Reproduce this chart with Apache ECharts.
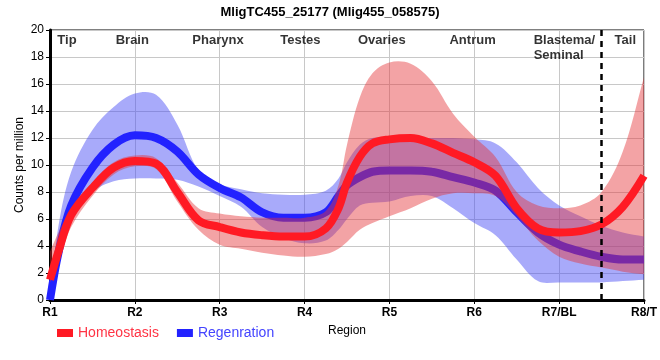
<!DOCTYPE html>
<html>
<head>
<meta charset="utf-8">
<script src="https://cdn.jsdelivr.net/npm/echarts@6/dist/echarts.min.js"></script>
<style>html,body{margin:0;padding:0;background:#fff}#c{width:660px;height:360px}</style>
</head>
<body>
<div id="c"></div>
<script>
var xTickLabels = ['R1','R2','R3','R4','R5','R6','R7/BL','R8/T'];
var xs        = [0, 0.1, 0.25, 0.5, 0.75, 1, 1.25, 1.5, 1.75, 2, 2.25, 2.5, 2.75, 3, 3.25, 3.4, 3.5, 3.65, 3.8, 4, 4.25, 4.5, 4.75, 5, 5.25, 5.5, 5.75, 6, 6.25, 6.5, 6.75, 7];
var homeMean  = [1.5, 3.6, 6.3, 8.3, 9.8, 10.3, 10.1, 8.0, 5.9, 5.4, 5.0, 4.8, 4.7, 4.7, 5.3, 6.8, 8.7, 10.6, 11.6, 11.9, 12.0, 11.6, 10.9, 10.2, 9.2, 6.8, 5.3, 5.0, 5.1, 5.6, 6.9, 9.2];
var homeUpper = [3.6, 5.0, 6.8, 8.7, 10.2, 10.7, 10.5, 8.7, 6.8, 6.4, 6.2, 6.1, 6.1, 6.1, 6.6, 8.5, 11.5, 15.0, 16.8, 17.6, 17.5, 16.2, 13.8, 12.1, 10.6, 8.0, 7.0, 6.8, 7.0, 8.0, 11.0, 16.5];
var homeLower = [1.3, 2.8, 5.4, 7.7, 9.3, 9.9, 9.7, 7.3, 5.2, 4.1, 3.8, 3.5, 3.3, 3.2, 3.4, 3.8, 4.3, 5.2, 5.7, 6.2, 6.8, 7.5, 7.9, 7.9, 7.7, 6.2, 4.4, 3.2, 2.7, 2.4, 2.1, 1.9];
var regMean   = [0, 3.5, 7.0, 9.8, 11.5, 12.2, 12.0, 11.0, 9.3, 8.3, 7.6, 6.5, 6.1, 6.1, 6.5, 7.7, 8.5, 9.1, 9.5, 9.6, 9.6, 9.5, 9.1, 8.7, 8.1, 6.5, 5.0, 4.1, 3.6, 3.2, 3.0, 3.0];
var regUpper  = [0.3, 5.5, 9.5, 12.6, 14.3, 15.3, 15.2, 13.0, 9.6, 8.6, 8.2, 7.9, 7.8, 7.8, 8.1, 9.0, 10.2, 11.5, 12.0, 12.0, 12.0, 12.0, 12.0, 11.9, 11.6, 10.2, 8.3, 7.0, 6.2, 5.5, 5.0, 4.7];
var regLower  = [0, 2.5, 6.0, 8.0, 8.8, 9.0, 9.0, 8.9, 8.4, 7.7, 6.9, 5.4, 4.6, 4.2, 4.4, 5.2, 6.0, 7.0, 7.2, 7.3, 7.7, 7.7, 6.8, 5.7, 4.8, 3.0, 1.4, 1.3, 1.3, 1.3, 1.4, 1.5];
var regionNames = ['Tip', 'Brain', 'Pharynx', 'Testes', 'Ovaries', 'Antrum', 'Blastema/\nSeminal', 'Tail'];
var regionX     = [0.2, 0.97, 1.98, 2.95, 3.91, 4.98, 5.7, 6.78];
var tailBoundary = 6.5;

function pairs(a){ return xs.map(function(x,i){ return [x, a[i]]; }); }

var SM = 0.35;
// smooth bezier through pixel points (same idea as ECharts line smoothing)
function smoothSeg(pts, s, moveFirst){
  var d = moveFirst ? 'M' + pts[0][0] + ' ' + pts[0][1] : 'L' + pts[0][0] + ' ' + pts[0][1];
  var n = pts.length;
  function cps(i){
    var p = pts[i], prev = pts[Math.max(i-1,0)], next = pts[Math.min(i+1,n-1)];
    var vx = next[0]-prev[0], vy = next[1]-prev[1];
    var lp = Math.hypot(p[0]-prev[0], p[1]-prev[1]);
    var ln = Math.hypot(p[0]-next[0], p[1]-next[1]);
    var r = (lp+ln) > 0 ? ln/(lp+ln) : 0.5;
    return {
      next: [p[0] + vx*s*r, p[1] + vy*s*r],
      prev: [p[0] - vx*s*(1-r), p[1] - vy*s*(1-r)]
    };
  }
  var c = pts.map(function(_,i){ return cps(i); });
  for (var i = 0; i < n-1; i++){
    var a = c[i].next, b = c[i+1].prev, e = pts[i+1];
    d += 'C' + a[0] + ' ' + a[1] + ' ' + b[0] + ' ' + b[1] + ' ' + e[0] + ' ' + e[1];
  }
  return d;
}
function bandRenderer(upper, lower, fill){
  return function(params, api){
    if (params.dataIndex !== 0) return;
    var up = xs.map(function(x,i){ return api.coord([x, upper[i]]); });
    var lo = xs.map(function(x,i){ return api.coord([x, lower[i]]); }).reverse();
    var d = smoothSeg(up, SM, true) + smoothSeg(lo, SM, false) + 'Z';
    return {
      type: 'path',
      shape: {pathData: d},
      style: {fill: fill, stroke: null}
    };
  };
}

var FONT = 'Liberation Sans, Arial, sans-serif';
var chart = echarts.init(document.getElementById('c'));
chart.setOption({
  animation: false,
  backgroundColor: '#fff',
  title: {
    text: 'MligTC455_25177 (Mlig455_058575)',
    left: 'center', top: 1,
    textStyle: {fontFamily: FONT, fontSize: 13, fontWeight: 'bold', color: '#000'}
  },
  legend: {
    left: 52, top: 321, icon: 'rect', itemWidth: 16, itemHeight: 8, itemGap: 18,
    textStyle: {fontFamily: FONT, fontSize: 14},
    data: [
      {name: 'Homeostasis', textStyle: {color: '#ff3344'}},
      {name: 'Regenration', textStyle: {color: '#4444ff'}}
    ]
  },
  grid: {left: 50, right: 10, top: 30, bottom: 60, show: true, borderColor: '#000', borderWidth: 1},
  xAxis: {
    type: 'value', min: 0, max: 7, interval: 1,
    name: 'Region', nameLocation: 'middle', nameGap: 25, nameMoveOverlap: false,
    nameTextStyle: {fontFamily: FONT, fontSize: 12, color: '#000'},
    axisLine: {lineStyle: {color: '#000', width: 3}},
    axisTick: {show: true, length: 4, lineStyle: {color: '#000'}},
    axisLabel: {fontFamily: FONT, fontSize: 12, fontWeight: 'bold', color: '#000', margin: 7,
      formatter: function(v){ return xTickLabels[Math.round(v)] || ''; }},
    splitLine: {show: true, lineStyle: {color: '#c8c8c8', width: 1}}
  },
  yAxis: {
    type: 'value', min: 0, max: 20, interval: 2,
    name: 'Counts per million', nameLocation: 'middle', nameGap: 24, nameMoveOverlap: false,
    nameTextStyle: {fontFamily: FONT, fontSize: 12, color: '#000'},
    axisLine: {show: true, lineStyle: {color: '#000', width: 3}},
    axisTick: {show: true, length: 4, lineStyle: {color: '#000'}},
    axisLabel: {fontFamily: FONT, fontSize: 12, color: '#000', margin: 6},
    splitLine: {show: true, lineStyle: {color: '#c8c8c8', width: 1}}
  },
  series: [
    {name: 'regBand', type: 'custom', data: pairs(regMean), renderItem: bandRenderer(regUpper, regLower, 'rgba(70,75,245,0.47)'),
     z: 1, silent: true, clip: true},
    {name: 'Regenration', type: 'line', data: pairs(regMean), smooth: SM, symbol: 'none', color: '#2222ff',
     lineStyle: {width: 8, color: '#2222ff'}, z: 2},
    {name: 'homeBand', type: 'custom', data: pairs(homeMean), renderItem: bandRenderer(homeUpper, homeLower, 'rgba(228,50,55,0.45)'),
     z: 3, silent: true, clip: true},
    {name: 'Homeostasis', type: 'line', data: pairs(homeMean), smooth: SM, symbol: 'none', color: '#ff1a24',
     lineStyle: {width: 8, color: '#ff1a24'}, z: 4,
     markLine: {silent: true, symbol: 'none', label: {show: false},
       lineStyle: {color: '#000', type: [6, 5], width: 2.5},
       data: [{xAxis: tailBoundary}]}},
    {name: 'regions', type: 'scatter', symbolSize: 0, z: 5, silent: true,
     data: regionNames.map(function(n,i){
       var item = {value: [regionX[i], 19.75], name: n};
       if (i === 6) item.label = {align: 'left'};
       return item;
     }),
     label: {show: true, position: 'inside', formatter: '{b}', align: 'center', verticalAlign: 'top',
       fontFamily: FONT, fontSize: 13, fontWeight: 'bold', color: '#000', lineHeight: 15}}
  ]
});
</script>
</body>
</html>
